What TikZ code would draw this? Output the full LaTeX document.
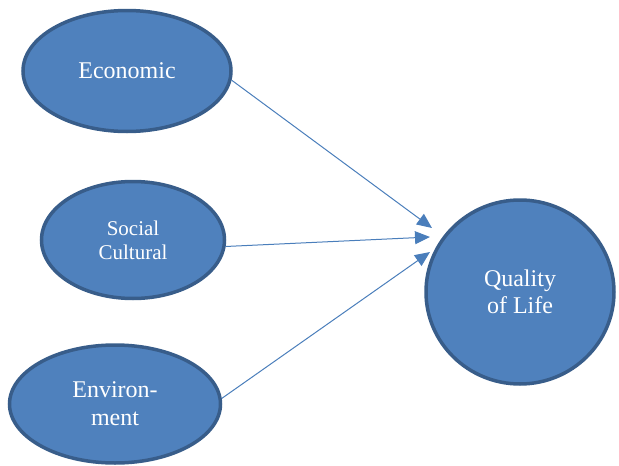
\documentclass[tikz,border=0pt]{standalone}
\usepackage{fontspec}
\setmainfont{Liberation Serif}
\usepackage{tikz}
\usetikzlibrary{shapes.geometric, arrows.meta}
\definecolor{fillblue}{HTML}{4F81BD}
\definecolor{rimblue}{HTML}{385D8A}
\definecolor{lineblue}{HTML}{4A7EBB}

\begin{document}
\begin{tikzpicture}[x=1pt, y=-1pt,
    factor/.style={ellipse, draw=rimblue, fill=fillblue, line width=3.5pt, inner sep=0pt,
        text=white, align=center, font=\fontsize{24}{28}\selectfont},
    link/.style={draw=lineblue, line width=1pt, -{Triangle[length=15pt, width=13pt]}}]
    \useasboundingbox (0,0) rectangle (619,466);

    \node[factor, minimum width=208pt, minimum height=121pt] (E) at (127,71) {Economic};
    \node[factor, minimum width=183pt, minimum height=117pt, font=\fontsize{21}{24}\selectfont] (S) at (133,240) {Social\\Cultural};
    \node[factor, minimum width=211pt, minimum height=118pt] (N) at (115,404) {Environ-\\ment};
    \node[factor, minimum width=188pt, minimum height=184pt, font=\fontsize{24}{27}\selectfont] (Q) at (520,292) {Quality\\of Life};

    \coordinate (tE) at (432,228);
    \coordinate (tS) at (430,237);
    \coordinate (tN) at (430,252);

    \draw[link] (E.-5) -- (tE);
    \draw[link] (S.-4) -- (tS);
    \draw[link] (N.3) -- (tN);
\end{tikzpicture}
\end{document}
